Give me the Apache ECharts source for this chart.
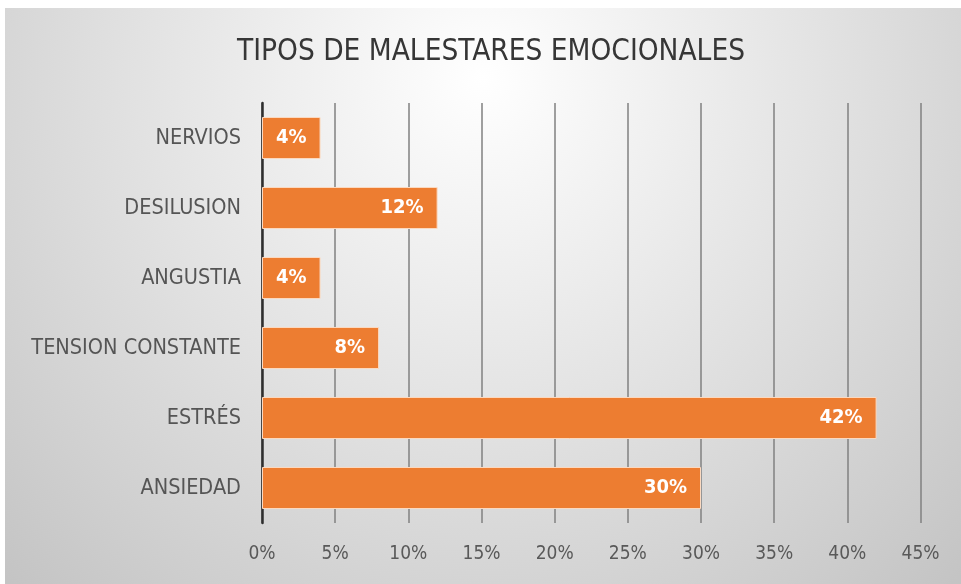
<!DOCTYPE html>
<html>
<head>
<meta charset="utf-8">
<script src="https://cdn.jsdelivr.net/npm/echarts@6/dist/echarts.min.js"></script>
<style>
  html, body { margin: 0; padding: 0; background: #fff; }
  #main { position: absolute; left: 5px; top: 8px; width: 956px; height: 576px; }
</style>
</head>
<body>
<div id="main"></div>
<script>
var categories = ['ANSIEDAD', 'ESTRÉS', 'TENSION CONSTANTE', 'ANGUSTIA', 'DESILUSION', 'NERVIOS'];
var values = [30, 42, 8, 4, 12, 4];
var tickLabels = ['0%', '5%', '10%', '15%', '20%', '25%', '30%', '35%', '40%', '45%'];

var chartDom = document.getElementById('main');
var myChart = echarts.init(chartDom);
var font = '"Liberation Sans Narrow", "DejaVu Sans Condensed", "Open Sans", sans-serif';

var option = {
  backgroundColor: new echarts.graphic.RadialGradient(0.5, 0.12, 1.2, [
    { offset: 0, color: '#ffffff' },
    { offset: 0.5, color: '#e2e2e2' },
    { offset: 1, color: '#c4c4c4' }
  ]),
  title: {
    text: 'TIPOS DE MALESTARES EMOCIONALES',
    left: 481,
    top: 24,
    textAlign: 'center',
    textStyle: { fontFamily: font, fontSize: 29.5, fontWeight: 'normal', color: '#363636' }
  },
  grid: { left: 257, right: 40.5, top: 95, bottom: 61 },
  xAxis: {
    type: 'value',
    min: 0,
    max: 45,
    interval: 5,
    axisLine: { show: false },
    axisTick: { show: false },
    axisLabel: {
      color: '#595959',
      fontFamily: font,
      fontSize: 19,
      margin: 22,
      formatter: function (v) { return tickLabels[Math.round(v / 5)]; }
    },
    splitLine: { lineStyle: { color: '#808080', width: 1.5 } }
  },
  yAxis: {
    type: 'category',
    data: categories,
    axisLine: { lineStyle: { color: '#2e2e2e', width: 2.5 } },
    axisTick: { show: false },
    axisLabel: { color: '#555555', fontFamily: font, fontSize: 21.5, margin: 21 }
  },
  series: [{
    type: 'bar',
    data: values,
    barWidth: '60%',
    itemStyle: { color: '#ed7d31', borderColor: '#fbd9c0', borderWidth: 1 },
    label: {
      show: true,
      position: 'insideRight',
      distance: 14,
      color: '#ffffff',
      fontFamily: font,
      fontWeight: 'bold',
      fontSize: 20,
      formatter: '{c}%'
    }
  }]
};

option && myChart.setOption(option);
</script>
</body>
</html>
